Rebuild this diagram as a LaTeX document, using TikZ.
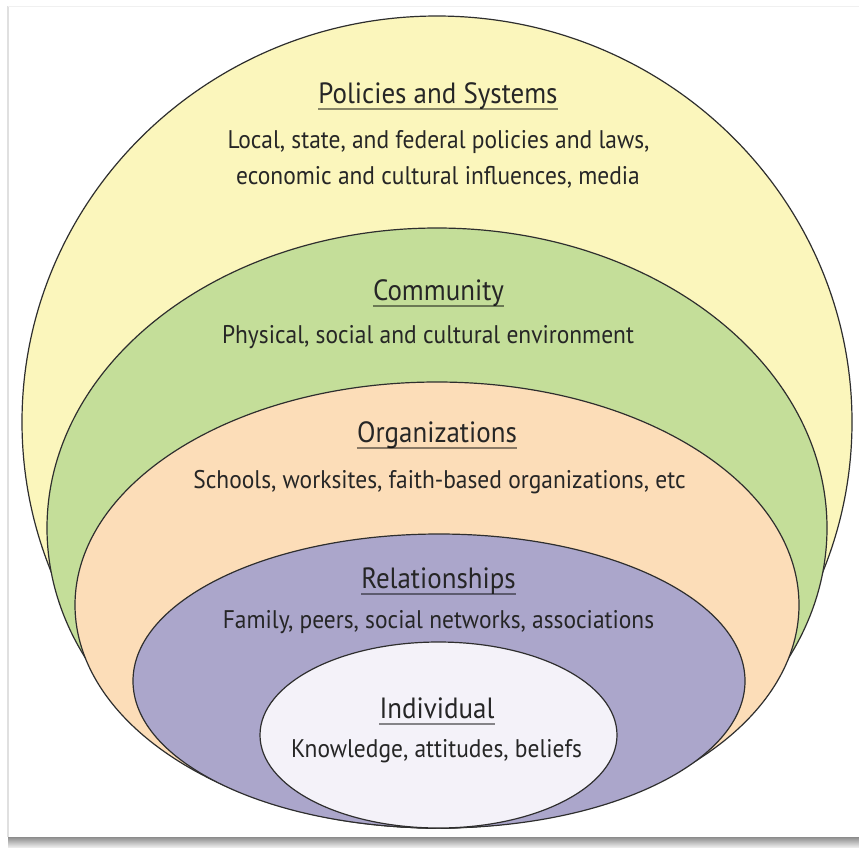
\documentclass[tikz,border=0pt]{standalone}
\usepackage{fontspec}
\setmainfont{PT Sans}[FakeStretch=0.92]
\definecolor{cyel}{HTML}{FBF6BC}
\definecolor{cgrn}{HTML}{C4DE99}
\definecolor{corg}{HTML}{FCDDB8}
\definecolor{cpur}{HTML}{ABA6CB}
\definecolor{cwht}{HTML}{F4F2F9}
\definecolor{cline}{HTML}{2E2E2E}
\definecolor{ctext}{HTML}{262626}
\begin{document}
\begin{tikzpicture}[x=1pt,y=-1pt,
  ring/.style={draw=cline,line width=1.2pt},
  ttl/.style={anchor=base,inner sep=0pt,text=ctext,font=\fontsize{29.3}{31}\selectfont},
  bdy/.style={anchor=base,inner sep=0pt,text=ctext,font=\fontsize{25.5}{30}\selectfont},
  uline/.style={draw=black,opacity=0.45,line width=1.4pt}]
\useasboundingbox (0,0) rectangle (859,847);
\fill[white] (0,0) rectangle (859,847);
% photo frame and shadow
\shade[top color=black!45,bottom color=black!8] (8,837) rectangle (859,847);
\draw[black!12,line width=1.2pt] (8,6) -- (8,837);
\draw[black!6,line width=1pt] (8,6) -- (859,6);
% rings
\filldraw[ring,fill=cyel] (437,422) ellipse [x radius=415pt,y radius=406pt];
\filldraw[ring,fill=cgrn] (437,528) ellipse [x radius=390pt,y radius=300pt];
\filldraw[ring,fill=corg] (437,605) ellipse [x radius=362pt,y radius=223pt];
\filldraw[ring,fill=cpur] (439,681) ellipse [x radius=306pt,y radius=147pt];
\filldraw[ring,fill=cwht] (438.5,735) ellipse [x radius=178.5pt,y radius=93pt];
% texts
\node[ttl] (t1) at (438,103) {Policies and Systems};
\node[bdy] (b1a) at (438.5,148) {Local, state, and federal policies and laws,};
\node[bdy] (b1b) at (438,184) {economic and cultural influences, media};
\node[ttl] (t2) at (438.5,300) {Community};
\node[bdy] (b2) at (428,343) {Physical, social and cultural environment};
\node[ttl] (t3) at (437,442) {Organizations};
\node[bdy] (b3) at (439.5,488) {Schools, worksites, faith-based organizations, etc};
\node[ttl] (t4) at (438.5,588) {Relationships};
\node[bdy] (b4) at (438.5,628) {Family, peers, social networks, associations};
\node[ttl] (t5) at (437,718) {Individual};
\node[bdy] (b5) at (436.5,757) {Knowledge, attitudes, beliefs};
\foreach \t in {t1,t2,t3,t4,t5}
  \draw[uline] ([yshift=-6pt]\t.base west) -- ([yshift=-6pt]\t.base east);
\end{tikzpicture}
\end{document}
